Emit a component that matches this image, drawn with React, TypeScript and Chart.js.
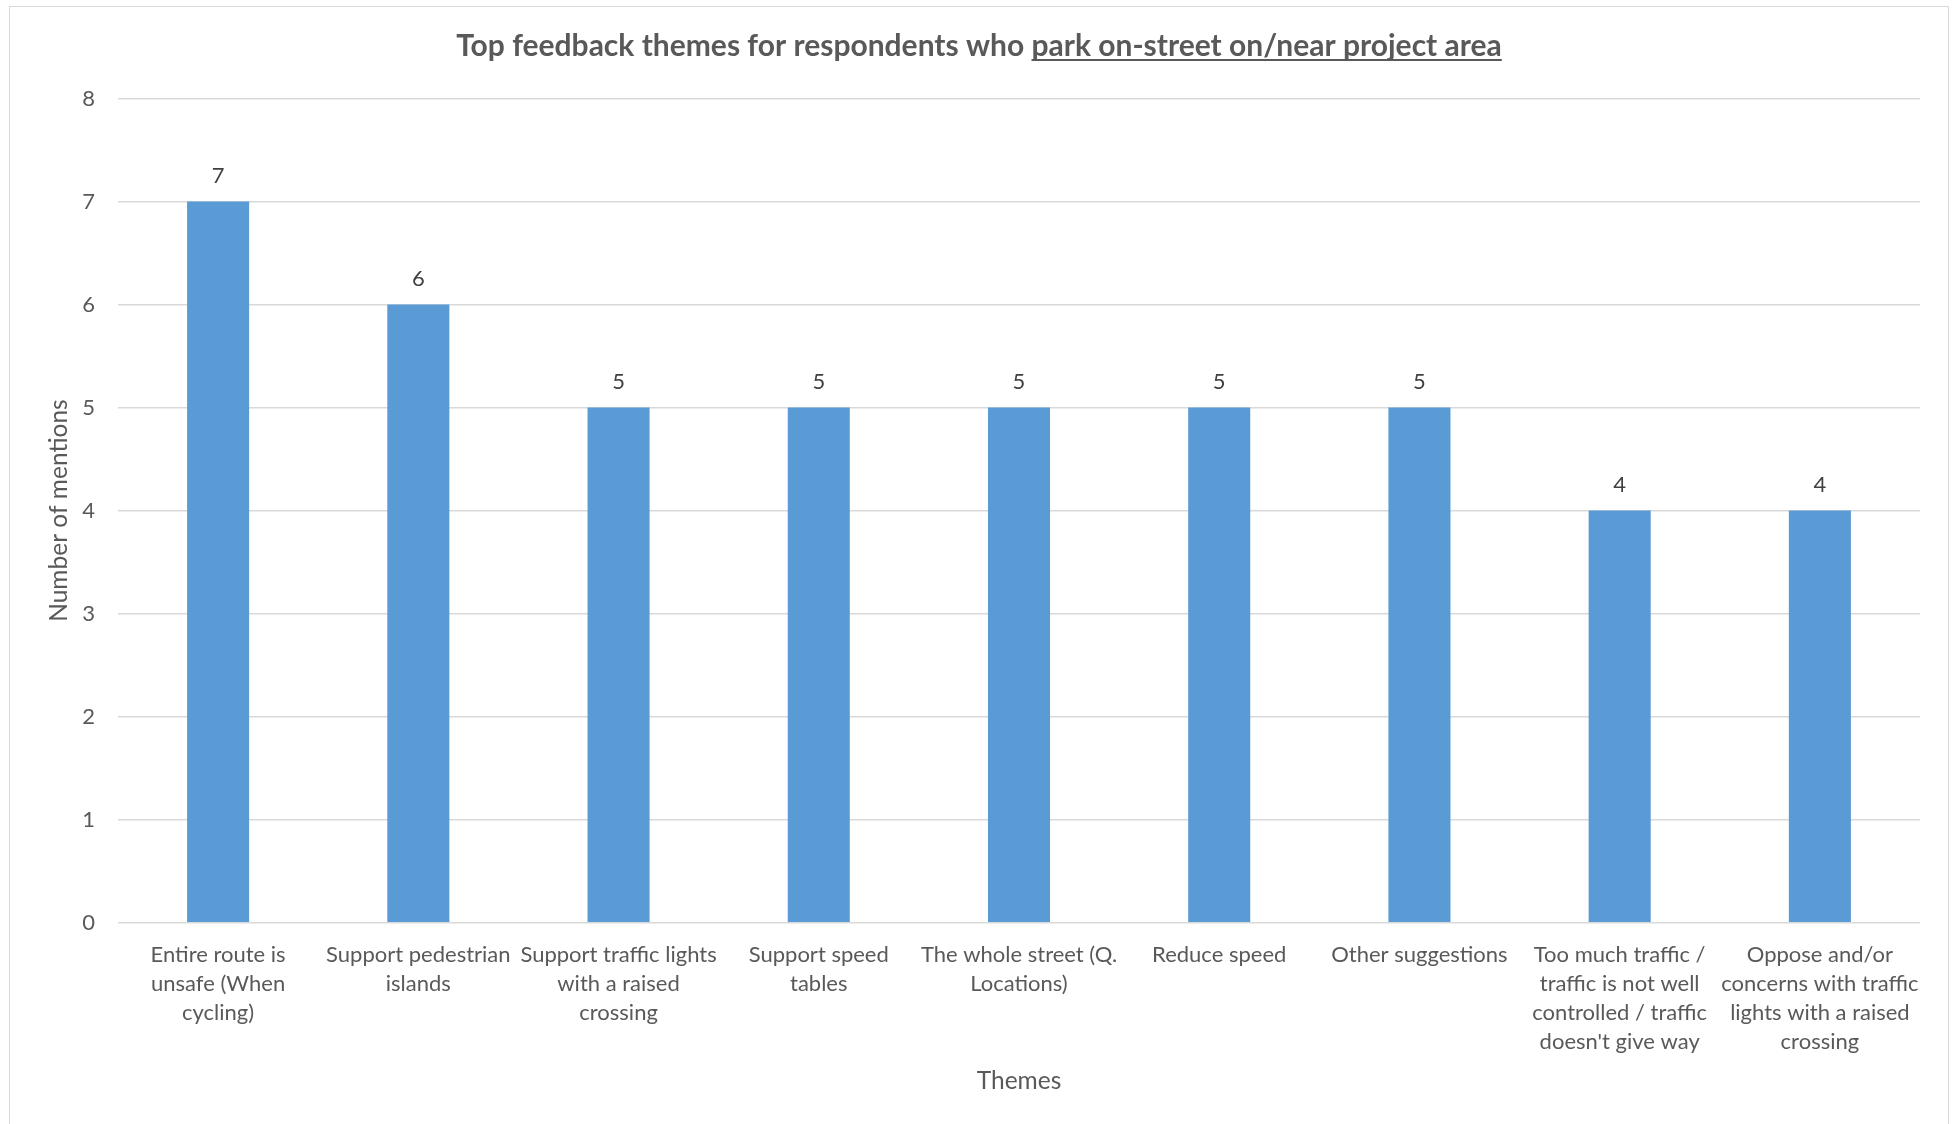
import React, { useEffect, useRef } from "react";
import { Chart, registerables } from "chart.js";

Chart.register(...registerables);

const categories: string[][] = [
  ["Entire route is", "unsafe (When", "cycling)"],
  ["Support pedestrian", "islands"],
  ["Support traffic lights", "with a raised", "crossing"],
  ["Support speed", "tables"],
  ["The whole street (Q.", "Locations)"],
  ["Reduce speed"],
  ["Other suggestions"],
  ["Too much traffic /", "traffic is not well", "controlled / traffic", "doesn't give way"],
  ["Oppose and/or", "concerns with traffic", "lights with a raised", "crossing"],
];
const mentions: number[] = [7, 6, 5, 5, 5, 5, 5, 4, 4];
const titlePlain = "Top feedback themes for respondents who ";
const titleUnderlined = "park on-street on/near project area";
const yTitle = "Number of mentions";
const xTitle = "Themes";

const FONT = "Lato, 'Open Sans', sans-serif";
const TEXT = "#595959";

const titlePlugin = {
  id: "customTitle",
  afterDraw(chart: any) {
    const ctx = chart.ctx;
    ctx.save();
    ctx.font = `bold 30px ${FONT}`;
    ctx.fillStyle = TEXT;
    ctx.textBaseline = "middle";
    ctx.textAlign = "left";
    const w1 = ctx.measureText(titlePlain).width;
    const w2 = ctx.measureText(titleUnderlined).width;
    const cx = 979;
    const y = 46;
    const x0 = cx - (w1 + w2) / 2;
    ctx.fillText(titlePlain, x0, y);
    ctx.fillText(titleUnderlined, x0 + w1, y);
    ctx.strokeStyle = TEXT;
    ctx.lineWidth = 1.8;
    ctx.beginPath();
    ctx.moveTo(x0 + w1, y + 14);
    ctx.lineTo(x0 + w1 + w2, y + 14);
    ctx.stroke();
    ctx.restore();
  },
};

const valueLabelPlugin = {
  id: "valueLabels",
  afterDatasetsDraw(chart: any) {
    const ctx = chart.ctx;
    ctx.save();
    ctx.font = `22px ${FONT}`;
    ctx.fillStyle = "#404040";
    ctx.textAlign = "center";
    ctx.textBaseline = "middle";
    const meta = chart.getDatasetMeta(0);
    meta.data.forEach((bar: any, i: number) => {
      ctx.fillText(String(chart.data.datasets[0].data[i]), bar.x, bar.y - 26);
    });
    ctx.restore();
  },
};

export default function App() {
  const ref = useRef<HTMLCanvasElement>(null);
  useEffect(() => {
    if (!ref.current) return;
    const chart = new Chart(ref.current, {
      type: "bar",
      data: {
        labels: categories,
        datasets: [
          {
            data: mentions,
            backgroundColor: "#5B9BD5",
            barPercentage: 0.31,
            categoryPercentage: 1,
          },
        ],
      },
      options: {
        animation: false,
        responsive: false,
        layout: { padding: { top: 98.5, left: 0, right: 35, bottom: 0 } },
        plugins: { legend: { display: false }, title: { display: false }, tooltip: { enabled: false } },
        scales: {
          x: {
            grid: { display: false },
            border: { display: false },
            ticks: {
              autoSkip: false,
              maxRotation: 0,
              minRotation: 0,
              padding: 9.5,
              color: TEXT,
              font: { family: FONT, size: 22, lineHeight: "29px" },
            },
            title: {
              display: true,
              text: xTitle,
              color: TEXT,
              font: { family: FONT, size: 24.5, lineHeight: 1.2 },
              padding: { top: 0, bottom: 28.5 },
            },
            afterFit(scale: any) {
              scale.height = 1124 - 922.6;
            },
          },
          y: {
            min: 0,
            max: 8,
            grid: { color: "#D9D9D9", lineWidth: 1.4, drawTicks: false },
            border: { display: false },
            ticks: {
              stepSize: 1,
              padding: 23,
              color: TEXT,
              font: { family: FONT, size: 22 },
            },
            title: {
              display: true,
              text: yTitle,
              color: TEXT,
              font: { family: FONT, size: 24.5, lineHeight: 1.2 },
              padding: { top: 44.5, bottom: 0 },
            },
            afterFit(scale: any) {
              scale.width = 118;
            },
          },
        },
      },
      plugins: [titlePlugin, valueLabelPlugin],
    });
    return () => chart.destroy();
  }, []);

  return (
    <div style={{ position: "fixed", left: 0, top: 0, width: 1955, height: 1124, background: "#fff" }}>
      <div
        style={{
          position: "absolute",
          left: 9,
          top: 6,
          width: 1940,
          height: 1140,
          border: "1.5px solid #D9D9D9",
          boxSizing: "border-box",
        }}
      />
      <canvas ref={ref} width={1955} height={1124} style={{ position: "absolute", left: 0, top: 0 }} />
    </div>
  );
}
